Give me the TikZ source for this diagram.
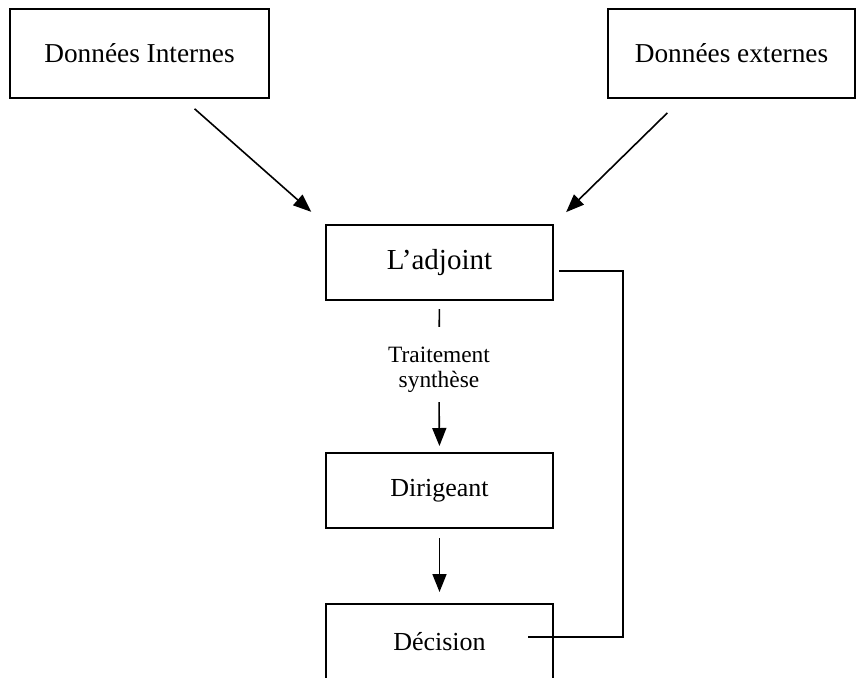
\documentclass[tikz,border=0pt]{standalone}
\usepackage{fontspec}
\setmainfont{Liberation Serif}
\usetikzlibrary{arrows.meta}

\begin{document}
\begin{tikzpicture}[x=0.5pt, y=-0.5pt,
  boite/.style={draw, line width=1pt, inner sep=0pt, align=center},
  grande/.style={boite, minimum width=129.5pt, minimum height=44.5pt, font=\fontsize{13.65}{16}\selectfont},
  petite/.style={boite, minimum width=113.5pt, minimum height=37.5pt, font=\fontsize{13}{15}\selectfont},
  fleche/.style={line width=0.8pt, -{Triangle[length=9pt, width=7pt]}},
  trait/.style={line width=0.8pt}]
\clip (0,0) rectangle (857,677);
\node[grande] (internes) at (139.5,53.5) {Données Internes};
\node[grande, minimum width=123.5pt] (externes) at (731.5,53.5) {Données externes};
\node[petite, font=\fontsize{14.5}{17}\selectfont] (adjoint) at (439.5,262.5) {L’adjoint};
\node[inner sep=0pt, align=center, font=\fontsize{11.7}{12.5}\selectfont] (traitement) at (439,370) {Traitement\\synthèse};
\node[petite] (dirigeant) at (439.5,490.5) {Dirigeant};
\node[petite] (decision) at (439.5,641.5) {Décision};
% donnees vers l'adjoint
\draw[fleche, shorten <=7.4pt, shorten >=9.2pt] ([xshift=22pt]internes.south) -- (adjoint.north west);
\draw[fleche, shorten <=9.9pt, shorten >=8.5pt] ([xshift=-25pt]externes.south) -- (adjoint.north east);
% chaine verticale
\draw[trait, shorten <=4pt, shorten >=10pt] (adjoint.south) -- (traitement.north);
\draw[fleche, shorten <=4.5pt, shorten >=3pt] (traitement.south) -- (dirigeant.north);
\draw[fleche, shorten <=4.5pt, shorten >=5.5pt] (dirigeant.south) -- (decision.north);
% retour
\draw[trait] ([shift={(2.5pt,-4.25pt)}]adjoint.east) -- ++(32pt,0) |- ([shift={(-13pt,2.25pt)}]decision.east);
\end{tikzpicture}
\end{document}
